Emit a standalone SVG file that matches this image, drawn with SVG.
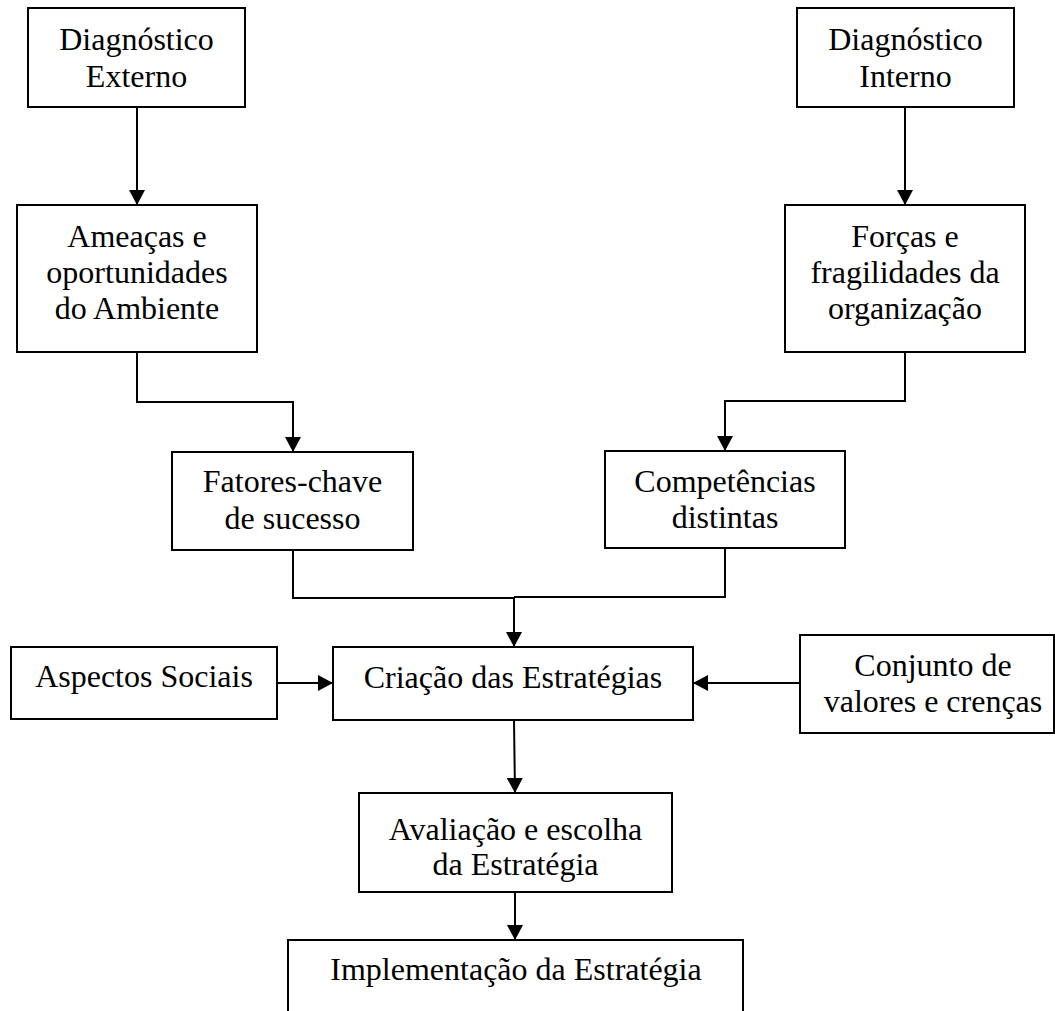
<svg xmlns="http://www.w3.org/2000/svg" width="1055" height="1011" viewBox="0 0 1055 1011">
<style>
.box{fill:#fff;stroke:#000;stroke-width:2}
.t{font-family:"Liberation Serif","Times New Roman",serif;font-size:32px;fill:#000;text-anchor:middle}
.c{fill:none;stroke:#000;stroke-width:2}
</style>
<defs>
<marker id="ah" markerUnits="userSpaceOnUse" markerWidth="16" markerHeight="16" refX="15" refY="8" orient="auto">
<path d="M0,0 L15,8 L0,16 z" fill="#000"/>
</marker>
</defs>
<rect width="1055" height="1011" fill="#fff"/>
<g id="connectors">
<path class="c" d="M137,107 V205" marker-end="url(#ah)"/>
<path class="c" d="M905,107 V205" marker-end="url(#ah)"/>
<path class="c" d="M137,352 V402 H293 V452" marker-end="url(#ah)"/>
<path class="c" d="M905,352 V401 H725 V451" marker-end="url(#ah)"/>
<path class="c" d="M293,550 V598 H514 M725,548 V597 H514"/>
<path class="c" d="M514,597 V647" marker-end="url(#ah)"/>
<path class="c" d="M277,683 H333" marker-end="url(#ah)"/>
<path class="c" d="M800,683 H693" marker-end="url(#ah)"/>
<path class="c" d="M514,720 L515,793" marker-end="url(#ah)"/>
<path class="c" d="M515,892 V940" marker-end="url(#ah)"/>
</g>
<g id="diag-externo">
<rect class="box" x="28" y="8" width="217" height="99"/>
<text class="t" x="136.5" y="50">Diagnóstico</text>
<text class="t" x="136.5" y="87">Externo</text>
</g>
<g id="diag-interno">
<rect class="box" x="797" y="8" width="217" height="99"/>
<text class="t" x="905.5" y="50">Diagnóstico</text>
<text class="t" x="905.5" y="87">Interno</text>
</g>
<g id="ameacas">
<rect class="box" x="17" y="205" width="240" height="147"/>
<text class="t" x="137" y="247">Ameaças e</text>
<text class="t" x="137" y="283">oportunidades</text>
<text class="t" x="137" y="319">do Ambiente</text>
</g>
<g id="forcas">
<rect class="box" x="785" y="205" width="240" height="147"/>
<text class="t" x="905" y="247">Forças e</text>
<text class="t" x="905" y="283">fragilidades da</text>
<text class="t" x="905" y="319">organização</text>
</g>
<g id="fatores">
<rect class="box" x="172" y="452" width="241" height="98"/>
<text class="t" x="292.5" y="492">Fatores-chave</text>
<text class="t" x="292.5" y="529">de sucesso</text>
</g>
<g id="competencias">
<rect class="box" x="605" y="451" width="240" height="97"/>
<text class="t" x="725" y="492">Competências</text>
<text class="t" x="725" y="528">distintas</text>
</g>
<g id="aspectos">
<rect class="box" x="11" y="647" width="266" height="72"/>
<text class="t" x="144" y="687">Aspectos Sociais</text>
</g>
<g id="criacao">
<rect class="box" x="333" y="647" width="360" height="73"/>
<text class="t" x="513" y="688">Criação das Estratégias</text>
</g>
<g id="conjunto">
<rect class="box" x="800" y="635" width="254" height="98"/>
<text class="t" x="933" y="676">Conjunto de</text>
<text class="t" x="933" y="712">valores e crenças</text>
</g>
<g id="avaliacao">
<rect class="box" x="359" y="793" width="313" height="99"/>
<text class="t" x="515.5" y="840">Avaliação e escolha</text>
<text class="t" x="515.5" y="875">da Estratégia</text>
</g>
<g id="implementacao">
<rect class="box" x="288" y="940" width="455" height="100"/>
<text class="t" x="516" y="980">Implementação da Estratégia</text>
</g>
</svg>
